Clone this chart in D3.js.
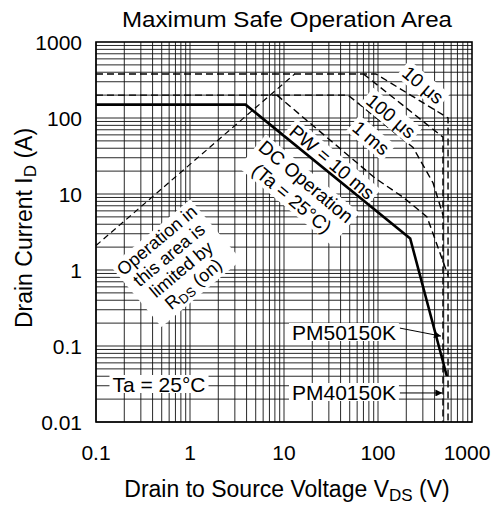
<!DOCTYPE html>
<html>
<head>
<meta charset="utf-8">
<script src="https://cdn.jsdelivr.net/npm/d3@7"></script>
<style>
body { margin: 0; background: #fff; }
svg text { font-family: "Liberation Sans", Arial, sans-serif; fill: #000; }
</style>
</head>
<body>
<svg id="chart" width="500" height="510"></svg>
<script>
// axis ticks
const xTicks = [0.1, 1, 10, 100, 1000];
const xTickLabels = ["0.1", "1", "10", "100", "1000"];
const yTicks = [0.01, 0.1, 1, 10, 100, 1000];
const yTickLabels = ["0.01", "0.1", "1", "10", "100", "1000"];

// DC operation (solid line)
const dcVolts = [0.1, 3.9, 220, 540];
const dcAmps = [150, 150, 2.6, 0.04];

// pulse curves (dashed)
const us10Volts = [0.1, 95, 556, 556];
const us10Amps = [380, 380, 100, 0.01];
const us100Volts = [70, 491, 491];
const us100Amps = [380, 56, 0.01];
const ms1Volts = [0.1, 48, 236, 385, 491];
const ms1Amps = [200, 200, 41, 14, 5.3];
const pw10Volts = [8.4, 93, 184, 332, 556];
const pw10Amps = [200, 16.2, 9.1, 5.0, 0.85];

// RDS(on) limit
const rdsVolts = [0.1, 13];
const rdsAmps = [2.1, 380];

// device arrows: [from, to] in V / A
const pm50Arrow = [[171, 0.172], [468, 0.135]];
const pm40Arrow = [[171, 0.0241], [484, 0.0241]];

var svg = d3.select("#chart");
var plotL = 96, plotR = 472, plotT = 42, plotB = 422;

var x = d3.scaleLog().domain([0.1, 1000]).range([plotL, plotR]);
var y = d3.scaleLog().domain([0.01, 1000]).range([plotB, plotT]);

// log grid
var gridX = [], gridY = [];
for (var e = -1; e < 3; e++) for (var k = 1; k <= 9; k++) gridX.push(k * Math.pow(10, e));
for (var e = -2; e < 3; e++) for (var k = 1; k <= 9; k++) gridY.push(k * Math.pow(10, e));

var grid = svg.append("g").attr("stroke", "#111").attr("stroke-width", 0.9);
grid.selectAll(".gx").data(gridX).enter().append("line")
  .attr("x1", d => x(d)).attr("x2", d => x(d))
  .attr("y1", plotT).attr("y2", plotB);
grid.selectAll(".gy").data(gridY).enter().append("line")
  .attr("y1", d => y(d)).attr("y2", d => y(d))
  .attr("x1", plotL).attr("x2", plotR);

var line = d3.line().x(d => x(d[0])).y(d => y(d[1]));
function pairs(vs, is) { return vs.map((v, i) => [v, is[i]]); }

var curves = svg.append("g").attr("fill", "none").attr("stroke", "#000");
curves.append("path").attr("d", line(pairs(rdsVolts, rdsAmps)))
  .attr("stroke-width", 1.2).attr("stroke-dasharray", "6,4");
[[us10Volts, us10Amps], [us100Volts, us100Amps], [ms1Volts, ms1Amps], [pw10Volts, pw10Amps]]
  .forEach(function(c) {
    curves.append("path").attr("d", line(pairs(c[0], c[1])))
      .attr("stroke-width", 1.4).attr("stroke-dasharray", "7,4");
  });

// rotated labels with white backing
function rotLabel(lines, cx, cy, angle, size, lh) {
  var g = svg.append("g").attr("transform", "translate(" + cx + "," + cy + ") rotate(" + angle + ")");
  var bg = g.append("rect").attr("fill", "#fff");
  var t = g.append("text").attr("text-anchor", "middle").style("font-size", size + "px");
  lines.forEach(function(l, i) {
    var yy = (i - (lines.length - 1) / 2) * lh + size * 0.35;
    var first = true;
    l.forEach(function(seg) {
      var ts = t.append("tspan").text(seg.t);
      if (first) { ts.attr("x", 0).attr("y", yy); first = false; }
      if (seg.sub) ts.style("font-size", (size * 0.72) + "px").attr("dy", size * 0.18);
      else if (seg.after) ts.attr("dy", -size * 0.18);
    });
  });
  var b = t.node().getBBox();
  bg.attr("x", b.x - 3).attr("y", b.y).attr("width", b.width + 6).attr("height", b.height);
}

rotLabel([[{t: "10 \u03bcs"}]], 423, 85, 40, 19, 20);
rotLabel([[{t: "100 \u03bcs"}]], 391, 116, 40, 19, 20);
rotLabel([[{t: "1 ms"}]], 371, 138, 40, 19, 20);
rotLabel([[{t: "PW = 10 ms"}]], 332, 162, 40, 19, 20);
rotLabel([[{t: "DC Operation"}], [{t: "(Ta = 25\u00b0C)"}]], 299, 190, 40, 19, 22);
rotLabel([[{t: "Operation in"}], [{t: "this area is"}], [{t: "limited by"}],
  [{t: "R"}, {t: "DS", sub: true}, {t: " (on)", after: true}]], 175, 262, -40, 18, 19);

// flat labels
function flatLabel(txt, lx, ly, anchor) {
  var t = svg.append("text").attr("x", lx).attr("y", ly).attr("text-anchor", anchor)
    .style("font-size", "21px").text(txt);
  var b = t.node().getBBox();
  svg.insert("rect", function() { return t.node(); })
    .attr("x", b.x - 3).attr("y", b.y + 2).attr("width", b.width + 6).attr("height", b.height - 5)
    .attr("fill", "#fff");
}
flatLabel("Ta = 25\u00b0C", 159, 392, "middle");
flatLabel("PM50150K", 292, 340, "start");
flatLabel("PM40150K", 292, 400, "start");

svg.append("defs").append("marker").attr("id", "ah")
  .attr("viewBox", "0 0 10 10").attr("refX", 10).attr("refY", 5)
  .attr("markerWidth", 12).attr("markerHeight", 7).attr("markerUnits", "userSpaceOnUse")
  .attr("orient", "auto")
  .append("path").attr("d", "M0,0L10,5L0,10Z").attr("fill", "#000");

[pm50Arrow, pm40Arrow].forEach(function(a) {
  svg.append("line")
    .attr("x1", x(a[0][0])).attr("y1", y(a[0][1]))
    .attr("x2", x(a[1][0])).attr("y2", y(a[1][1]))
    .attr("stroke", "#000").attr("stroke-width", 1)
    .attr("marker-end", "url(#ah)");
});

// solid DC line on top
svg.append("path").attr("d", line(pairs(dcVolts, dcAmps)))
  .attr("fill", "none").attr("stroke", "#000").attr("stroke-width", 2.6);

// frame
svg.append("rect").attr("x", plotL).attr("y", plotT)
  .attr("width", plotR - plotL).attr("height", plotB - plotT)
  .attr("fill", "none").attr("stroke", "#000").attr("stroke-width", 1.6);

// tick labels
svg.selectAll(".xl").data(xTicks).enter().append("text")
  .attr("x", (d, i) => x(d) - (i === xTicks.length - 1 ? 5 : 0))
  .attr("y", 460).attr("text-anchor", "middle").style("font-size", "21px")
  .text((d, i) => xTickLabels[i]);
svg.selectAll(".yl").data(yTicks).enter().append("text")
  .attr("x", 82).attr("y", d => y(d) + 7.5).attr("text-anchor", "end").style("font-size", "21px")
  .text((d, i) => yTickLabels[i]);

// titles
svg.append("text").attr("x", 287).attr("y", 27).attr("text-anchor", "middle")
  .style("font-size", "22px").attr("textLength", 330).attr("lengthAdjust", "spacingAndGlyphs")
  .text("Maximum Safe Operation Area");

var xt = svg.append("text").attr("x", 287).attr("y", 497).attr("text-anchor", "middle")
  .style("font-size", "23px");
xt.append("tspan").text("Drain to Source Voltage V");
xt.append("tspan").text("DS").style("font-size", "17px").attr("dy", 4);
xt.append("tspan").text(" (V)").attr("dy", -4);

var yt = svg.append("text").attr("transform", "translate(32,228) rotate(-90)")
  .attr("text-anchor", "middle").style("font-size", "23px");
yt.append("tspan").text("Drain Current I");
yt.append("tspan").text("D").style("font-size", "17px").attr("dy", 4);
yt.append("tspan").text(" (A)").attr("dy", -4);
</script>
</body>
</html>
